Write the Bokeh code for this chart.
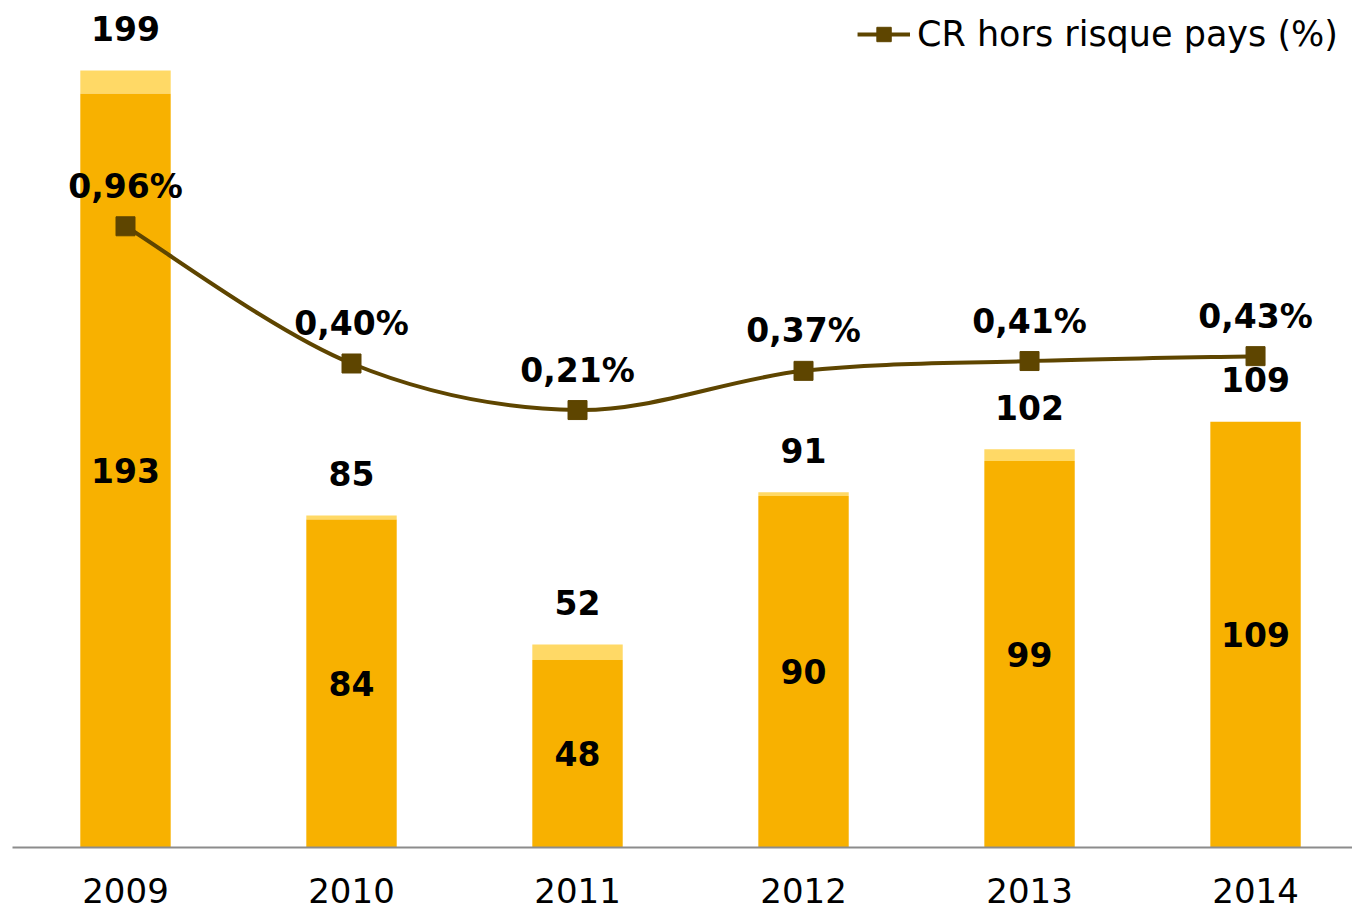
from bokeh.plotting import figure
from bokeh.models import (ColumnDataSource, Range1d, FixedTicker,
                          Legend, LegendItem, LabelSet)
from bokeh.embed import file_html
from bokeh.resources import INLINE
from bokeh.core.properties import value

years = ["2009", "2010", "2011", "2012", "2013", "2014"]
base_vals = [193, 84, 48, 90, 99, 109]
total_vals = [199, 85, 52, 91, 102, 109]
cr_vals = [0.96, 0.40, 0.21, 0.37, 0.41, 0.43]
cr_labels = ["0,96%", "0,40%", "0,21%", "0,37%", "0,41%", "0,43%"]

FONT = "DejaVu Sans"
ORANGE = "#F8B100"
LIGHT = "#FFD966"
BROWN = "#5E4500"

xs = list(range(len(years)))

p = figure(width=1352, height=910, output_backend="svg", toolbar_location=None,
           x_range=Range1d(-0.5, 5.429), y_range=Range1d(0, 216.9),
           min_border_left=12, min_border_right=0, min_border_top=0, min_border_bottom=63)
p.extra_y_ranges = {"cr": Range1d(-1.5755, 1.8816)}

p.outline_line_color = None
p.grid.visible = False
p.yaxis.visible = False
p.background_fill_color = "white"
p.border_fill_color = "white"

src = ColumnDataSource(dict(
    x=xs, base=base_vals, total=total_vals, zero=[0] * len(xs),
    mid=[b / 2 for b in base_vals],
    base_lbl=[str(v) for v in base_vals],
    total_lbl=[str(v) for v in total_vals],
    cr=cr_vals, cr_lbl=cr_labels,
))

p.vbar(x="x", bottom="base", top="total", width=0.4, source=src,
       fill_color=LIGHT, line_color=None)
p.vbar(x="x", bottom="zero", top="base", width=0.4, source=src,
       fill_color=ORANGE, line_color=None)

# smoothed line (Catmull-Rom style Bezier segments from the data points)
n = len(xs)
x0, y0, x1, y1, cx0, cy0, cx1, cy1 = [], [], [], [], [], [], [], []
for i in range(n - 1):
    pm = (xs[max(i - 1, 0)], cr_vals[max(i - 1, 0)])
    pa = (xs[i], cr_vals[i])
    pb = (xs[i + 1], cr_vals[i + 1])
    pn = (xs[min(i + 2, n - 1)], cr_vals[min(i + 2, n - 1)])
    x0.append(pa[0]); y0.append(pa[1]); x1.append(pb[0]); y1.append(pb[1])
    cx0.append(pa[0] + (pb[0] - pm[0]) / 6); cy0.append(pa[1] + (pb[1] - pm[1]) / 6)
    cx1.append(pb[0] - (pn[0] - pa[0]) / 6); cy1.append(pb[1] - (pn[1] - pa[1]) / 6)
p.bezier(x0=x0, y0=y0, x1=x1, y1=y1, cx0=cx0, cy0=cy0, cx1=cx1, cy1=cy1,
         line_color=BROWN, line_width=4, y_range_name="cr")
markers = p.scatter(x="x", y="cr", source=src, marker="square", size=19,
                    fill_color=BROWN, line_color=BROWN, y_range_name="cr")

# legend proxy
leg_line = p.line(x=[0, 0], y=[0, 0], line_color=BROWN, line_width=4, visible=False)

common = dict(text_font=value(FONT), text_font_style="bold", text_font_size="33px",
              text_color="black", text_align="center", text_baseline="middle")
p.add_layout(LabelSet(x="x", y="total", text="total_lbl", source=src, y_offset=42, **common))
p.add_layout(LabelSet(x="x", y="mid", text="base_lbl", source=src, **common))
p.add_layout(LabelSet(x="x", y="cr", text="cr_lbl", source=src, y_offset=40,
                      y_range_name="cr", **common))

p.xaxis.ticker = FixedTicker(ticks=xs)
p.xaxis.major_label_overrides = {i: y for i, y in zip(xs, years)}
p.xaxis.major_tick_line_color = None
p.xaxis.minor_tick_line_color = None
p.xaxis.axis_line_color = "#8C8C8C"
p.xaxis.axis_line_width = 2
p.xaxis.major_label_text_font = FONT
p.xaxis.major_label_text_font_size = "34px"
p.xaxis.major_label_text_color = "black"
p.xaxis.major_label_standoff = 24

legend = Legend(items=[LegendItem(label="CR hors risque pays (%)", renderers=[leg_line, markers])],
                location="top_right", orientation="horizontal",
                label_text_font=FONT, label_text_font_size="35px", label_text_color="black",
                glyph_width=53, glyph_height=36, padding=0, margin=14, spacing=0,
                label_standoff=7, border_line_color=None, background_fill_alpha=0)
p.add_layout(legend)

open("out.html", "w").write(file_html(p, INLINE))
